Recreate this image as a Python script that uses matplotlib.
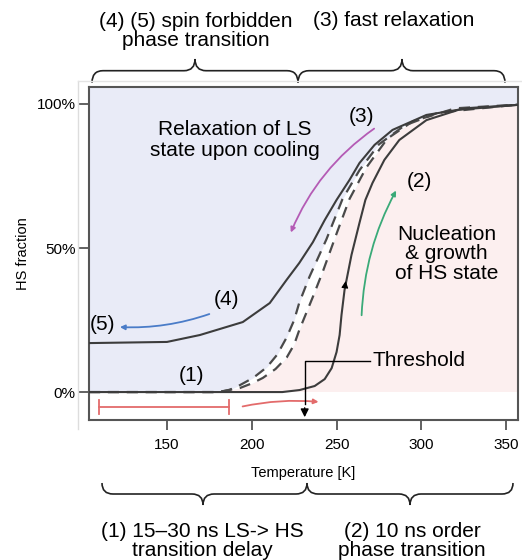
import numpy as np
import matplotlib
matplotlib.use("Agg")
import matplotlib.pyplot as plt
from matplotlib.path import Path
from matplotlib.patches import PathPatch
from matplotlib.lines import Line2D

plt.rcParams["font.family"] = ["Liberation Sans", "DejaVu Sans"]

# cooling curve (solid, left branch)
cool_T = [104, 150, 169.4, 194.7, 210.6, 220.6, 228, 236, 243, 250, 257.6, 263.5, 272.4, 283, 303, 328, 357]
cool_hs = [17, 17.4, 19.8, 24.3, 30.9, 39, 44.8, 52, 59.7, 66.7, 73.6, 79.5, 85.8, 91, 96.2, 98.6, 99.7]

# heating curve (solid, right branch)
heat_T = [104, 218, 228.2, 237.1, 243, 247.1, 250, 251.8, 252.9, 254.7, 258.8, 263.5, 267, 271.2,
          278.2, 287, 303, 322, 357]
heat_hs = [0, 0, 0.7, 2.1, 4.5, 8.3, 13.9, 19.8, 26.7, 35.4, 47.6, 58.7, 66.7, 72.6,
           80.6, 87.5, 94.4, 98, 99.7]

# dashed curves
dash1_T = [104, 181, 187, 193, 201, 209, 215, 220.6, 225, 228, 234, 244, 253.5, 263.5, 275, 290, 310, 357]
dash1_hs = [0, 0, 0.8, 2.4, 5, 8.7, 13, 19, 25, 31, 40, 53, 67, 77, 86, 92.5, 97, 99.8]
dash2_T = [104, 180, 193, 200, 206.5, 214, 220.6, 225, 228, 236, 242, 250, 257.6, 267.6, 280, 295, 320, 357]
dash2_hs = [0, 0, 1.4, 3, 4.9, 8, 12, 16.5, 21.5, 33, 42, 55, 67, 78, 88, 94, 98.5, 99.8]

xticks = [150, 200, 250, 300, 350]
yticks = [0, 50, 100]
ytick_labels = ["0%", "50%", "100%"]

W, H = 522, 560
fig = plt.figure(figsize=(W / 100, H / 100), dpi=100)
ax = fig.add_axes([89 / W, 1 - 420 / H, (518 - 89) / W, (420 - 87) / H])
ax.set_xlim(104, 357)
ax.set_ylim(-9.7, 105.9)

# background regions
blue = "#e9ebf7"
pink = "#fcefef"
ax.axhspan(0, 105.9, color=blue, zorder=0, lw=0)
tt = np.linspace(104, 357, 800)
d1 = np.interp(tt, dash1_T, dash1_hs)
d2 = np.interp(tt, dash2_T, dash2_hs)
ax.fill_between(tt, 0, d2, color=pink, lw=0, zorder=0.5)
ax.fill_between(tt, d2, d1, color="white", lw=0, zorder=0.6)
ax.axhspan(-9.7, 0, color="white", zorder=0.7, lw=0)

lc = "#3c3c3c"
ax.plot(cool_T, cool_hs, color=lc, lw=1.5, zorder=3)
ax.plot(heat_T, heat_hs, color=lc, lw=1.5, zorder=3)
ax.plot(dash1_T, dash1_hs, color="#4a4a4a", lw=1.6, ls=(0, (5, 3.5)), zorder=2)
ax.plot(dash2_T, dash2_hs, color="#4a4a4a", lw=1.6, ls=(0, (5, 3.5)), zorder=2)

# arrow head on heating curve
ax.annotate("", xy=(255.6, 39.5), xytext=(254.7, 35.4),
            arrowprops=dict(arrowstyle="-|>", color="black", lw=0.8, mutation_scale=10), zorder=4)

# coloured arrows
ax.annotate("", xy=(222.4, 54.5), xytext=(273.5, 92),
            arrowprops=dict(arrowstyle="-|>", color="#b45bb5", lw=1.3, mutation_scale=7,
                            connectionstyle="arc3,rad=0.15"))
ax.annotate("", xy=(285.9, 70.8), xytext=(264.7, 25.7),
            arrowprops=dict(arrowstyle="-|>", color="#3aaa78", lw=1.3, mutation_scale=7,
                            connectionstyle="arc3,rad=-0.12"))
ax.annotate("", xy=(120.6, 22.6), xytext=(176.5, 27.4),
            arrowprops=dict(arrowstyle="-|>", color="#4a7cc8", lw=1.3, mutation_scale=7,
                            connectionstyle="arc3,rad=-0.1"))
ax.annotate("", xy=(241, -3.5), xytext=(193, -5.2),
            arrowprops=dict(arrowstyle="-|>", color="#e36b6b", lw=1.3, mutation_scale=7,
                            connectionstyle="arc3,rad=-0.08"))
# red delay bracket
ax.plot([110, 186.5], [-5.2, -5.2], color="#e36b6b", lw=1.3, zorder=3)
ax.plot([110, 110], [-7.6, -2.8], color="#e36b6b", lw=1.3, zorder=3)
ax.plot([186.5, 186.5], [-7.6, -2.8], color="#e36b6b", lw=1.3, zorder=3)

# threshold marker
ax.plot([270, 231.2, 231.2], [10.8, 10.8, -4], color="black", lw=1.0, zorder=4)
ax.annotate("", xy=(231.2, -9.7), xytext=(231.2, -4.5),
            arrowprops=dict(arrowstyle="-|>", color="black", lw=1.0, mutation_scale=12), zorder=4)

fs = 15
ax.text(190, 87.5, "Relaxation of LS\nstate upon cooling", fontsize=fs, ha="center", va="center",
        linespacing=1.1)
ax.text(264.7, 95.5, "(3)", fontsize=fs, ha="center", va="center")
ax.text(299, 73, "(2)", fontsize=fs, ha="center", va="center")
ax.text(315, 48, "Nucleation\n& growth\nof HS state", fontsize=fs, ha="center", va="center",
        linespacing=1.05)
ax.text(185, 32, "(4)", fontsize=fs, ha="center", va="center")
ax.text(111.8, 23.3, "(5)", fontsize=fs, ha="center", va="center")
ax.text(164.7, 5.9, "(1)", fontsize=fs, ha="center", va="center")
ax.text(271, 10.8, "Threshold", fontsize=fs, ha="left", va="center")

for s in ax.spines.values():
    s.set_color("#555555")
    s.set_linewidth(1.5)
ax.set_xticks(xticks)
ax.set_yticks(yticks)
ax.set_yticklabels(ytick_labels)
ax.tick_params(axis="both", direction="out", length=7, width=1.3, color="#555555", labelsize=11)
ax.tick_params(axis="x", pad=6)
ax.tick_params(axis="y", pad=2.5)
ax.set_xlabel("Temperature [K]", fontsize=10.5, labelpad=10)
ax.set_ylabel("HS fraction", fontsize=10.5, labelpad=5)


def fx(x):
    return x / W


def fy(y):
    return 1 - y / H


def brace(x0, xm, x1, yb, h_end, h_tip, r=11):
    # h_end / h_tip in pixels, positive = downward in image
    pts = [(x0, yb + h_end), (x0, yb), (x0 + r, yb), (xm - r, yb), (xm, yb), (xm, yb + h_tip),
           (xm, yb), (xm + r, yb), (x1 - r, yb), (x1, yb), (x1, yb + h_end)]
    codes = [Path.MOVETO, Path.CURVE3, Path.CURVE3, Path.LINETO, Path.CURVE3, Path.CURVE3,
             Path.CURVE3, Path.CURVE3, Path.LINETO, Path.CURVE3, Path.CURVE3]
    verts = [(fx(a), fy(b)) for a, b in pts]
    fig.add_artist(PathPatch(Path(verts, codes), transform=fig.transFigure, fill=False,
                             edgecolor="#222222", lw=1.2))


brace(92, 195, 298, 70.7, 12, -11.7)
brace(298, 402, 505, 70.7, 12, -11.7)
brace(102, 203, 307, 494, -11, 11)
brace(307, 410, 513, 494, -11, 11)

# faint frame lines
fig.add_artist(Line2D([fx(78), fx(78)], [fy(81), fy(429)], transform=fig.transFigure,
                      color="#dddddd", lw=1))
fig.add_artist(Line2D([fx(78), fx(522)], [fy(81), fy(81)], transform=fig.transFigure,
                      color="#e4e4e4", lw=1))

fig.text(fx(196), fy(31), "(4) (5) spin forbidden\nphase transition", fontsize=fs,
         ha="center", va="center", linespacing=1.0)
fig.text(fx(394), fy(20), "(3) fast relaxation", fontsize=fs, ha="center", va="center")
fig.text(fx(202), fy(541), "(1) 15\u201330 ns LS-> HS\ntransition delay", fontsize=fs,
         ha="center", va="center", linespacing=0.95)
fig.text(fx(412), fy(541), "(2) 10 ns order\nphase transition", fontsize=fs,
         ha="center", va="center", linespacing=0.95)

fig.savefig("out.png", dpi=100)
